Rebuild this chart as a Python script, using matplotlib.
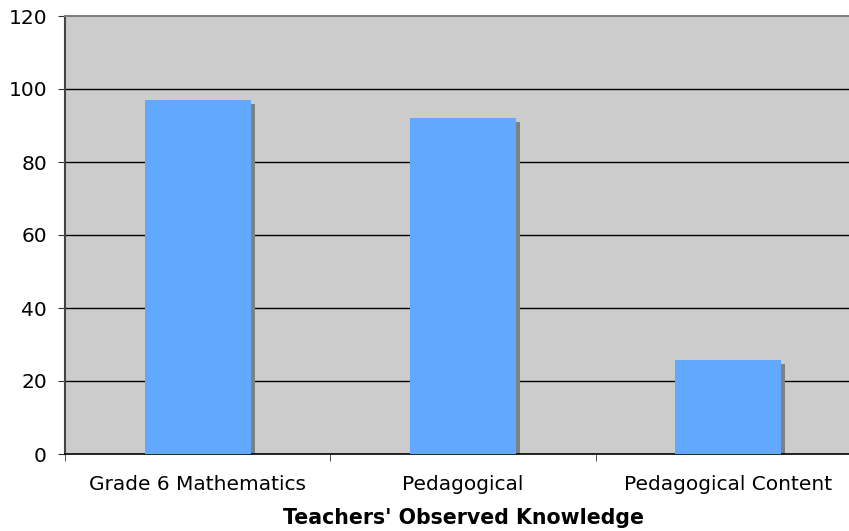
import matplotlib.pyplot as plt
from matplotlib.transforms import ScaledTranslation

categories = ["Grade 6 Mathematics", "Pedagogical", "Pedagogical Content"]
values = [97, 92, 25.8]
y_ticks = [0, 20, 40, 60, 80, 100, 120]

fig = plt.figure(figsize=(8.49, 5.31), dpi=100)
# plot area runs past the right edge of the picture, like the original
ax = fig.add_axes([65 / 849, 77 / 531, 796 / 849, 438 / 531])
ax.set_facecolor("#cccccc")

x = list(range(len(categories)))

# shadow bars, shifted right/down a few pixels
shadow = ax.transData + ScaledTranslation(4 / 100, -4 / 100, fig.dpi_scale_trans)
ax.bar(x, values, width=0.4, color="#808080", transform=shadow, zorder=2)
ax.bar(x, values, width=0.4, color="#61a8ff", zorder=3)

ax.set_xlim(-0.5, 2.5)
ax.set_ylim(0, 120)
ax.set_yticks(y_ticks)
for v in y_ticks[1:-1]:
    ax.axhline(v, color="black", lw=1, zorder=1)

fs = 14.5
ax.set_xticks(x)
ax.set_xticklabels(categories, fontsize=fs)
ax.tick_params(axis="x", which="major", length=0, pad=15)
ax.set_xticks([-0.5, 0.5, 1.5, 2.5], minor=True)
ax.tick_params(axis="x", which="minor", length=5, direction="out", color="#333333")
ax.tick_params(axis="y", labelsize=fs, length=5, direction="out", color="#333333", pad=8)

ax.spines["right"].set_visible(False)
ax.spines["top"].set_color("#808080")
ax.spines["top"].set_linewidth(1.5)
ax.spines["left"].set_color("#444444")
ax.spines["left"].set_linewidth(1.5)
ax.spines["bottom"].set_color("black")
ax.spines["bottom"].set_linewidth(1.2)

ax.set_xlabel("Teachers' Observed Knowledge", fontsize=14.8, fontweight="bold", labelpad=10)

fig.savefig("out.png", dpi=100)
